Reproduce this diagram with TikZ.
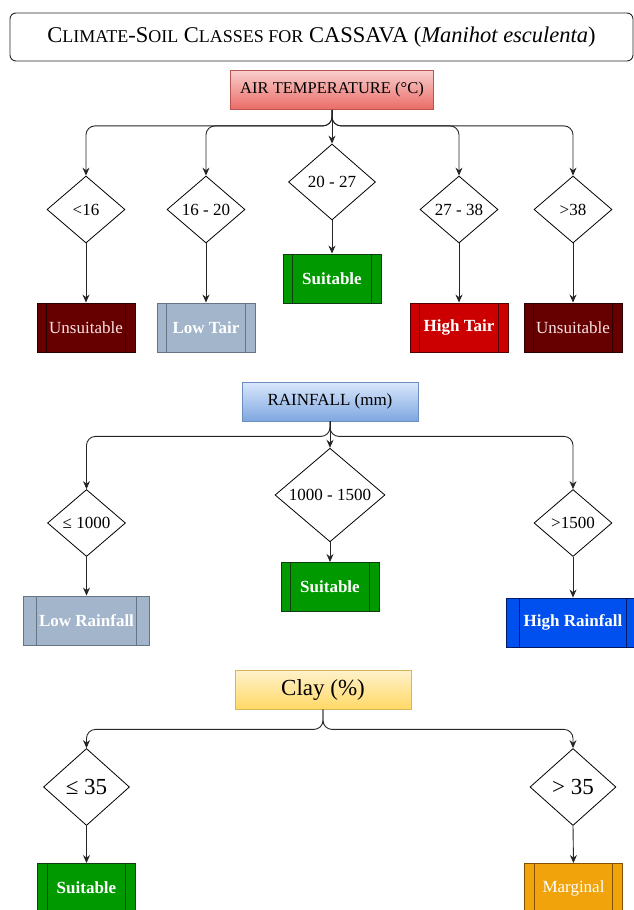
\documentclass[tikz,border=0pt]{standalone}
\usepackage{fontspec}
\setmainfont{Liberation Serif}
\usetikzlibrary{arrows.meta, shapes.geometric, calc}

\definecolor{tempTop}{HTML}{F8CECC}
\definecolor{tempBot}{HTML}{EA6B66}
\definecolor{tempLine}{HTML}{B85450}
\definecolor{rainTop}{HTML}{DAE8FC}
\definecolor{rainBot}{HTML}{7EA6E0}
\definecolor{rainLine}{HTML}{6C8EBF}
\definecolor{clayTop}{HTML}{FFF2CC}
\definecolor{clayBot}{HTML}{FFD966}
\definecolor{clayLine}{HTML}{D6B656}

\newcommand{\smallcap}[1]{{\fontsize{18}{20}\selectfont #1}}

\tikzstyle{title_node} = [
    rectangle,
    rounded corners=6pt,
    draw=black!85,
    line width=0.9pt,
    minimum width=623pt,
    minimum height=48pt,
    font=\fontsize{22.5}{26}\selectfont
]
\tikzstyle{head_node} = [
    rectangle,
    line width=0.8pt,
    inner sep=0pt,
    minimum height=39pt,
    text=black
]
\tikzstyle{test_node} = [
    diamond,
    draw=black,
    fill=white,
    line width=0.8pt,
    inner sep=0pt,
    font=\fontsize{17}{20}\selectfont,
    minimum width=78pt,
    minimum height=67pt
]
\tikzstyle{class_node} = [
    rectangle,
    draw,
    line width=0.9pt,
    inner sep=0pt,
    minimum width=98pt,
    minimum height=49pt,
    font=\fontsize{17}{20}\selectfont,
    path picture={
        \draw ($(path picture bounding box.north west)!0.1!(path picture bounding box.north east)$)
           -- ($(path picture bounding box.south west)!0.1!(path picture bounding box.south east)$);
        \draw ($(path picture bounding box.north east)!0.1!(path picture bounding box.north west)$)
           -- ($(path picture bounding box.south east)!0.1!(path picture bounding box.south west)$);
    }
]
% colours of the classes (color= also colours the inner lines)
\tikzstyle{unsuitable} = [color={rgb,255:red,45;green,0;blue,0}, fill={rgb,255:red,102;green,0;blue,0}, text={rgb,255:red,250;green,228;blue,228}]
\tikzstyle{low} = [color={rgb,255:red,102;green,116;blue,132}, fill={rgb,255:red,162;green,181;blue,203}, text=white, font=\fontsize{17}{20}\selectfont\bfseries]
\tikzstyle{suitable} = [color={rgb,255:red,20;green,60;blue,20}, fill={rgb,255:red,0;green,154;blue,0}, text=white, font=\fontsize{17}{20}\selectfont\bfseries]
\tikzstyle{high_tair} = [color={rgb,255:red,80;green,0;blue,0}, fill={rgb,255:red,204;green,0;blue,0}, text=white, font=\fontsize{17}{20}\selectfont\bfseries]
\tikzstyle{high_rain} = [color={rgb,255:red,0;green,26;blue,100}, fill={rgb,255:red,0;green,80;blue,239}, text=white, font=\fontsize{17}{20}\selectfont\bfseries]
\tikzstyle{marginal} = [color={rgb,255:red,130;green,80;blue,0}, fill={rgb,255:red,240;green,163;blue,10}, text=white]
\tikzstyle{branch} = [
    draw=black!85,
    line width=0.9pt,
    rounded corners=9pt,
    -{Stealth[length=8pt, width=7pt]}
]

\begin{document}
\begin{tikzpicture}[x=1pt, y=-1pt]
\useasboundingbox (0,0) rectangle (633,910);

\node [title_node] (title) at (321.5,37)
    {C\smallcap{LIMATE}-S\smallcap{OIL} C\smallcap{LASSES FOR} CASSAVA (\textit{Manihot esculenta})};

% air temperature
\node [head_node, draw=tempLine, top color=tempTop, bottom color=tempBot, minimum width=203pt,
    font=\fontsize{16.5}{20}\selectfont] (tempHead) at (332,90) {AIR TEMPERATURE (°C)};
\node [test_node] (tempA) at (86,209.5) {<16};
\node [test_node] (tempB) at (206,209.5) {16 - 20};
\node [test_node, minimum width=87pt, minimum height=76pt] (tempC) at (332,182) {20 - 27};
\node [test_node] (tempD) at (459,209.5) {27 - 38};
\node [test_node] (tempE) at (573,209.5) {>38};
\node [class_node, unsuitable] (tempAOut) at (86,327.5) {Unsuitable};
\node [class_node, low] (tempBOut) at (206,327.5) {Low Tair};
\node [class_node, suitable] (tempCOut) at (332,278.5) {Suitable};
\node [class_node, high_tair] (tempDOut) at (459,327.5) {High Tair};
\node [class_node, unsuitable] (tempEOut) at (573,327.5) {Unsuitable};

\draw [branch] (tempHead.south) -- ++(0,16) -| (tempA.north);
\draw [branch] (tempHead.south) -- ++(0,16) -| (tempB.north);
\draw [branch] (tempHead.south) -- (tempC.north);
\draw [branch] (tempHead.south) -- ++(0,16) -| (tempD.north);
\draw [branch] (tempHead.south) -- ++(0,16) -| (tempE.north);
\draw [branch] (tempA.south) -- (tempAOut.north);
\draw [branch] (tempB.south) -- (tempBOut.north);
\draw [branch] (tempC.south) -- (tempCOut.north);
\draw [branch] (tempD.south) -- (tempDOut.north);
\draw [branch] (tempE.south) -- (tempEOut.north);

% rainfall
\node [head_node, draw=rainLine, top color=rainTop, bottom color=rainBot, minimum width=176pt,
    font=\fontsize{17}{20}\selectfont] (rainHead) at (330,401.5) {RAINFALL (mm)};
\node [test_node] (rainA) at (86.5,523) {≤ 1000};
\node [test_node, minimum width=110pt, minimum height=76pt] (rainB) at (330,495) {1000 - 1500};
\node [test_node] (rainC) at (573,523) {>1500};
\node [class_node, low, minimum width=126pt] (rainAOut) at (86.5,620.5) {Low Rainfall};
\node [class_node, suitable] (rainBOut) at (330,587) {Suitable};
\node [class_node, high_rain, minimum width=134pt] (rainCOut) at (573,622.5) {High Rainfall};

\draw [branch] (rainHead.south) -- ++(0,15) -| (rainA.north);
\draw [branch] (rainHead.south) -- (rainB.north);
\draw [branch] (rainHead.south) -- ++(0,15) -| (rainC.north);
\draw [branch] (rainA.south) -- (rainAOut.north);
\draw [branch] (rainB.south) -- (rainBOut.north);
\draw [branch] (rainC.south) -- (rainCOut.north);

% clay
\node [head_node, draw=clayLine, top color=clayTop, bottom color=clayBot, minimum width=176pt,
    font=\fontsize{23}{26}\selectfont] (clayHead) at (323,689.5) {Clay (\%)};
\node [test_node, minimum width=86pt, minimum height=77pt, font=\fontsize{23}{26}\selectfont] (clayA) at (86.5,787) {≤ 35};
\node [test_node, minimum width=86pt, minimum height=77pt, font=\fontsize{23}{26}\selectfont] (clayB) at (573,787) {> 35};
\node [class_node, suitable] (clayAOut) at (86.5,888) {Suitable};
\node [class_node, marginal] (clayBOut) at (573.5,888) {Marginal};

\draw [branch] (clayHead.south) -- ++(0,20) -| (clayA.north);
\draw [branch] (clayHead.south) -- ++(0,20) -| (clayB.north);
\draw [branch] (clayA.south) -- (clayAOut.north);
\draw [branch] (clayB.south) -- (clayBOut.north);
\end{tikzpicture}
\end{document}
